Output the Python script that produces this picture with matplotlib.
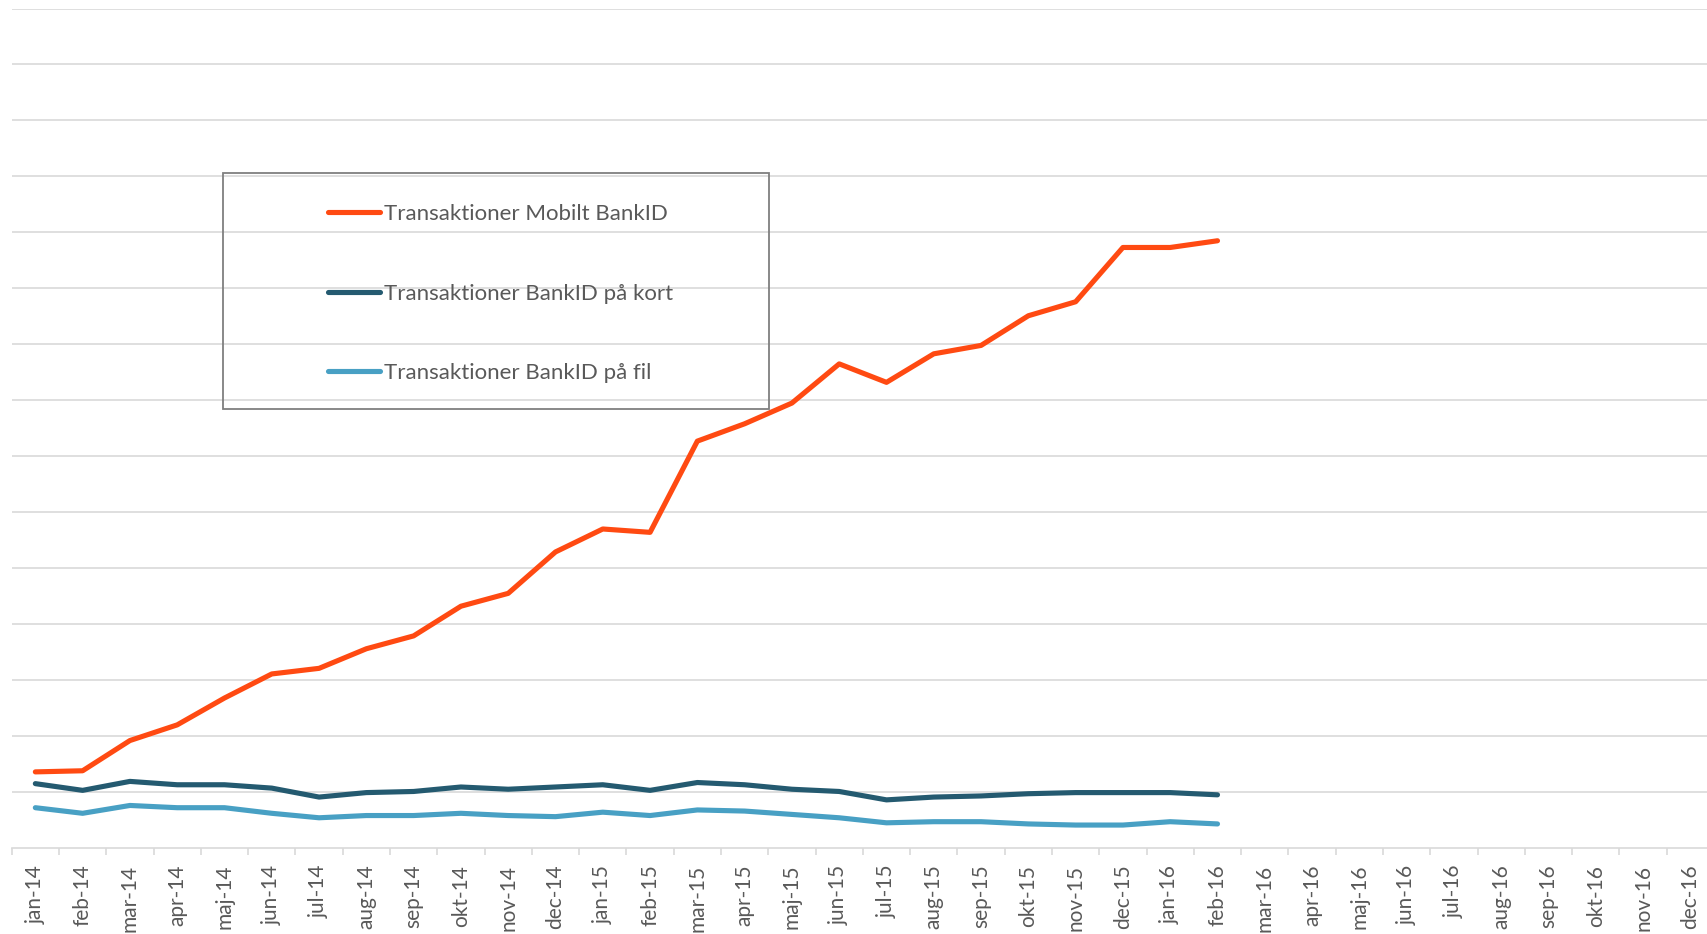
import matplotlib.pyplot as plt
import numpy as np
from matplotlib.patches import Rectangle
from matplotlib.ticker import FixedLocator

plt.rcParams['font.family'] = ['Lato', 'DejaVu Sans']

months = ['jan', 'feb', 'mar', 'apr', 'maj', 'jun', 'jul', 'aug', 'sep', 'okt', 'nov', 'dec']
labels = [m + '-' + y for y in ['14', '15', '16'] for m in months]

mobilt = [1.36, 1.38, 1.92, 2.20, 2.68, 3.11, 3.21, 3.56, 3.79, 4.32, 4.55, 5.29,
          5.70, 5.64, 7.27, 7.58, 7.95, 8.65, 8.32, 8.83, 8.98, 9.51, 9.76, 10.73,
          10.73, 10.85]
kort = [1.15, 1.03, 1.19, 1.13, 1.13, 1.07, 0.91, 0.99, 1.01, 1.09, 1.05, 1.09,
        1.13, 1.03, 1.17, 1.13, 1.05, 1.01, 0.86, 0.91, 0.93, 0.97, 0.99, 0.99,
        0.99, 0.95]
fil = [0.72, 0.62, 0.76, 0.72, 0.72, 0.62, 0.54, 0.58, 0.58, 0.62, 0.58, 0.56,
       0.64, 0.58, 0.68, 0.66, 0.60, 0.54, 0.45, 0.47, 0.47, 0.43, 0.41, 0.41,
       0.47, 0.43]

W, H = 1707, 934
fig = plt.figure(figsize=(W / 100, H / 100), dpi=100)
# plot runs a little past the right edge of the picture, like the original
ax = fig.add_axes([11.7 / W, 1 - 848 / H, (1714 - 11.7) / W, (848 - 8.5) / H])

x = np.arange(len(mobilt))
ax.plot(x, mobilt, color='#FF4A12', lw=3.7, solid_capstyle='round', label='Transaktioner Mobilt BankID')
ax.plot(x, kort, color='#245A70', lw=3.7, solid_capstyle='round', label='Transaktioner BankID på kort')
ax.plot(x, fil, color='#48A0C4', lw=3.7, solid_capstyle='round', label='Transaktioner BankID på fil')

ax.set_xlim(-0.5, len(labels) - 0.5)
ax.set_ylim(0, 15)
ax.set_yticks(np.arange(1, 16))
ax.yaxis.grid(True, color='#D9D9D9', lw=1.2)
ax.set_axisbelow(True)
ax.tick_params(axis='y', left=False, labelleft=False)

ax.set_xticks(np.arange(len(labels)))
ax.set_xticklabels(labels, rotation=90, fontsize=15, color='#595959')
ax.xaxis.set_minor_locator(FixedLocator(np.arange(-0.5, len(labels), 1)))
ax.tick_params(axis='x', which='major', length=0, pad=12)
ax.tick_params(axis='x', which='minor', length=5, color='#D9D9D9', width=1.2)

for s in ['top', 'right', 'left']:
    ax.spines[s].set_visible(False)
ax.spines['bottom'].set_color('#D9D9D9')
ax.spines['bottom'].set_linewidth(1.2)

leg = ax.legend(loc='upper left', bbox_to_anchor=(317 / W, 1 - 193 / H),
                bbox_transform=fig.transFigure, frameon=False, fontsize=16,
                handlelength=2.35, handletextpad=0.18, labelspacing=2.68, borderpad=0)
for t in leg.get_texts():
    t.set_color('#595959')
fig.patches.append(Rectangle((223 / W, 1 - 409 / H), (769 - 223) / W, (409 - 173) / H,
                             transform=fig.transFigure, fill=False, edgecolor='#7F7F7F', lw=1.3))

fig.savefig('out.png', dpi=100)
